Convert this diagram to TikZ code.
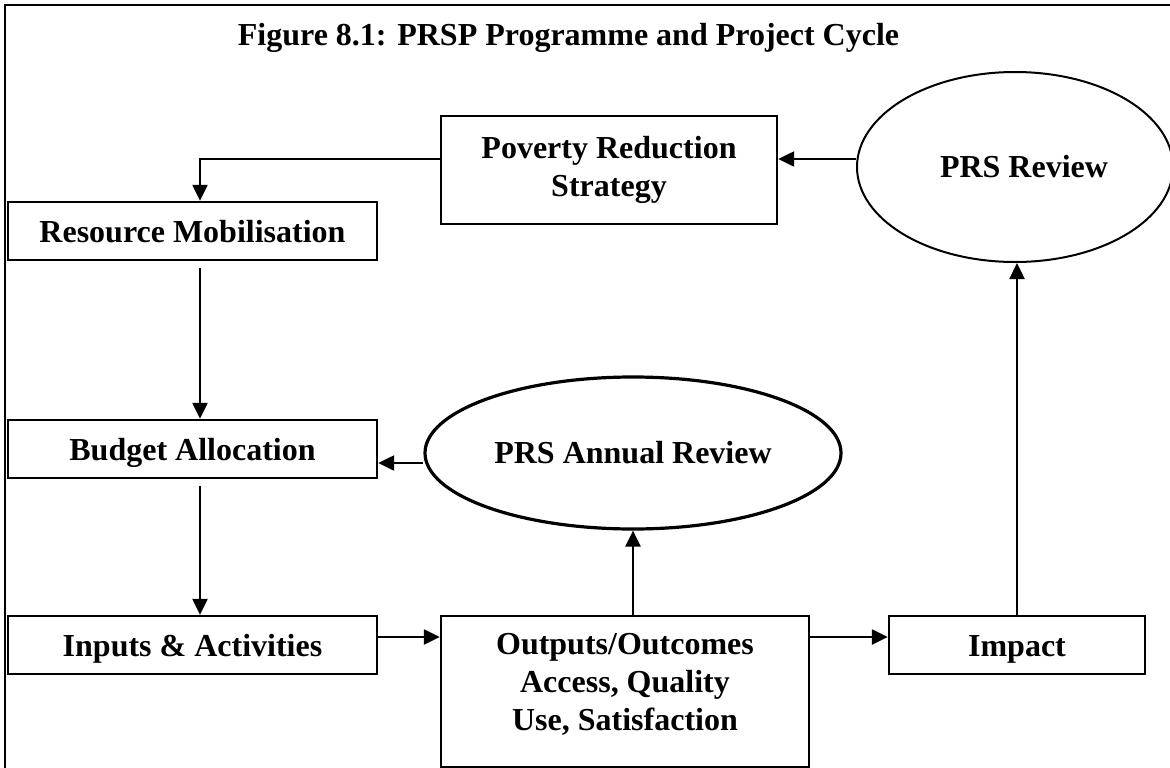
\documentclass[tikz,border=0pt]{standalone}
\usepackage{fontspec}
\setmainfont{Liberation Serif}
\usetikzlibrary{arrows.meta,shapes.geometric}
\begin{document}
\begin{tikzpicture}[x=1pt,y=-1pt,
  txt/.style={font=\fontsize{32}{38}\selectfont\bfseries},
  box/.style={txt, draw, line width=2.4pt, rectangle, inner sep=0pt, text height=22pt, text depth=0pt},
  oval/.style={txt, draw, ellipse, inner sep=0pt},
  conn/.style={line width=2.4pt, -{Triangle[length=16pt,width=15pt]}},
]
\useasboundingbox (0,0) rectangle (1170,768);
\begin{scope}
\clip (0,0) rectangle (1170,768);
\draw[line width=2.8pt] (5,5) rectangle (1200,800);

\node[txt, anchor=base] (title) at (568.5,46) {Figure 8.1: PRSP Programme and Project Cycle};

\node[box, minimum width=336pt, minimum height=108pt, text height=, text depth=, align=center] (prs) at (609,170) {Poverty Reduction\\Strategy};
\node[oval, line width=2pt, minimum width=316pt, minimum height=190pt] (rev) at (1015,167) {};
\node[txt] (revt) at (1024,167) {PRS Review};

\node[box, minimum width=369pt, minimum height=58pt] (rm) at (192.5,231) {Resource Mobilisation};
\node[box, minimum width=369pt, minimum height=58pt] (bud) at (192.5,449) {Budget Allocation};
\node[oval, line width=3.2pt, minimum width=416pt, minimum height=152pt] (ann) at (633,453) {PRS Annual Review};
\node[box, minimum width=369pt, minimum height=58pt] (inp) at (192.5,645) {Inputs \& Activities};
\node[box, minimum width=368pt, minimum height=151pt,
  label={[txt, align=center, yshift=7pt]center:{Outputs/Outcomes\\Access, Quality\\Use, Satisfaction}}] (out) at (625,691.5) {};
\node[box, minimum width=256pt, minimum height=58pt] (imp) at (1017,645) {Impact};

\draw[conn] (rev.west |- 0,159) -- (prs.east |- 0,159);
\draw[conn] (prs.west |- 0,159) -| (200,0 |- rm.north);
\draw[conn] (200,0 |- rm.south) ++(0,7) -- (200,0 |- bud.north);
\draw[conn] (ann.west |- 0,463) -- (bud.east |- 0,463);
\draw[conn] (200,0 |- bud.south) ++(0,7) -- (200,0 |- inp.north);
\draw[conn] (inp.east |- 0,637) -- (out.west |- 0,637);
\draw[conn] (ann.south |- out.north) -- (ann.south);
\draw[conn] (out.east |- 0,637) -- (imp.west |- 0,637);
\draw[conn] (imp.north) -- (imp.north |- rev.south);
\end{scope}
\end{tikzpicture}
\end{document}
